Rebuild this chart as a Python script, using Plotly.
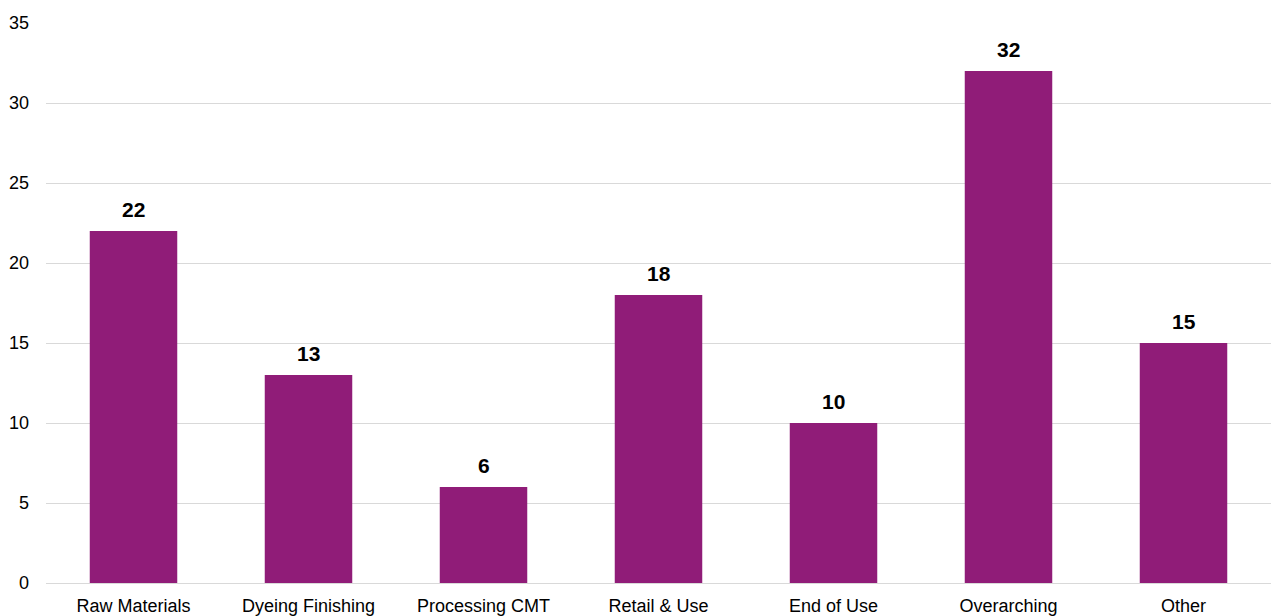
import plotly.graph_objects as go

categories = ["Raw Materials", "Dyeing Finishing", "Processing CMT", "Retail & Use",
              "End of Use", "Overarching", "Other"]
values = [22, 13, 6, 18, 10, 32, 15]

fig = go.Figure(go.Bar(
    x=categories, y=values,
    marker=dict(color="#901C78", line=dict(width=0)),
))

for c, v in zip(categories, values):
    fig.add_annotation(
        x=c, y=v, xref="x", yref="y", text=f"<b>{v}</b>", showarrow=False,
        yanchor="bottom", yshift=8,
        font=dict(family="Liberation Sans, Arial", size=21, color="#000000"),
    )

fig.update_layout(
    width=1271, height=616,
    margin=dict(l=46, r=0, t=23, b=33),
    paper_bgcolor="white", plot_bgcolor="white",
    bargap=0.5,
    showlegend=False,
    font=dict(family="Liberation Sans, Arial", size=18, color="#000000"),
    xaxis=dict(showgrid=False, showline=False, ticks="", tickfont=dict(size=18),
               ticklabelstandoff=10),
    yaxis=dict(range=[0, 35], dtick=5, showgrid=True, gridcolor="#d9d9d9", gridwidth=1,
               zeroline=True, zerolinecolor="#d9d9d9", zerolinewidth=1,
               showline=False, ticks="", tickfont=dict(size=18), ticklabelstandoff=16),
)

fig.write_html("out.html")
